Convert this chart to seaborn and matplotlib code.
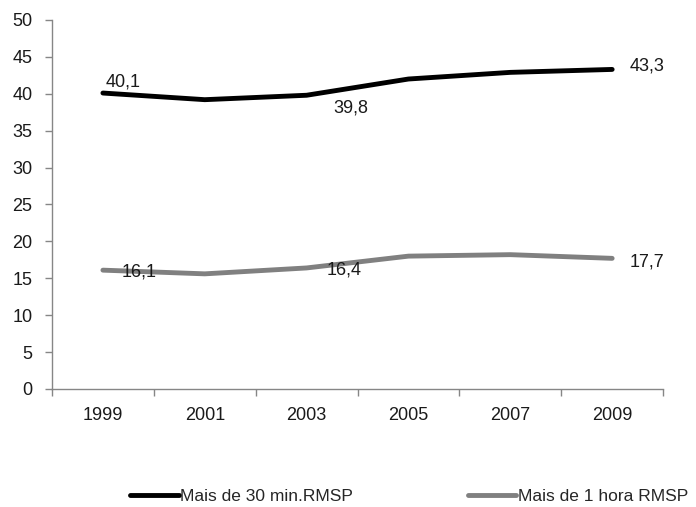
import matplotlib
matplotlib.use("Agg")
import matplotlib.pyplot as plt
import seaborn as sns
import pandas as pd

years = ["1999", "2001", "2003", "2005", "2007", "2009"]
mais_30 = [40.1, 39.2, 39.8, 42.0, 42.9, 43.3]
mais_1h = [16.1, 15.6, 16.4, 18.0, 18.2, 17.7]
series_names = ["Mais de 30 min.RMSP", "Mais de 1 hora RMSP"]
label_idx = [0, 2, 5]

sns.set_theme(style="white")
plt.rcParams["font.family"] = ["Liberation Sans", "DejaVu Sans"]

df = pd.DataFrame({
    "ano": years * 2,
    "valor": mais_30 + mais_1h,
    "serie": [series_names[0]] * len(years) + [series_names[1]] * len(years),
})

fig = plt.figure(figsize=(6.96, 5.07), dpi=100)
ax = fig.add_axes([0.0747, 0.2328, 0.878, 0.7278])

sns.lineplot(data=df, x="ano", y="valor", hue="serie", sort=False,
             palette=["#000000", "#808080"], linewidth=3.5, ax=ax,
             legend=True)

ax.set_xlim(-0.5, len(years) - 0.5)
ax.set_ylim(0, 50)
ax.set_yticks(range(0, 51, 5))
ax.set_xticks([i - 0.5 for i in range(len(years) + 1)])
ax.set_xticklabels([])
ax.set_xticks(range(len(years)), minor=True)
ax.set_xticklabels(years, minor=True)
ax.tick_params(axis="x", which="major", length=5, width=1, color="#868686",
               direction="out", bottom=True)
ax.tick_params(axis="x", which="minor", length=0, pad=13, labelsize=13,
               labelcolor="#1a1a1a")
ax.tick_params(axis="y", length=5, width=1, color="#868686", direction="out",
               left=True, labelsize=13, labelcolor="#1a1a1a", pad=9)
ax.set_xlabel("")
ax.set_ylabel("")
for s in ["top", "right"]:
    ax.spines[s].set_visible(False)
for s in ["left", "bottom"]:
    ax.spines[s].set_color("#868686")
    ax.spines[s].set_linewidth(1)
ax.grid(False)

# data labels
offs_30 = {0: (20, 11), 2: (44, -13), 5: (35, 3)}
offs_1h = {0: (36, -2), 2: (38, -2), 5: (35, -4)}
for vals, offs in ((mais_30, offs_30), (mais_1h, offs_1h)):
    for i in label_idx:
        ax.annotate(f"{vals[i]:.1f}".replace(".", ","), (i, vals[i]),
                    xytext=offs[i], textcoords="offset pixels",
                    ha="center", va="center", fontsize=13, color="#1a1a1a")

handles, labels = ax.get_legend_handles_labels()
ax.legend_.remove()
fig.legend(handles, labels, loc="center", bbox_to_anchor=(0.588, 0.02),
           ncol=2, frameon=False, fontsize=12.5, handlelength=2.8,
           handletextpad=0.1, columnspacing=6.6)

fig.savefig("out.png", dpi=100)
